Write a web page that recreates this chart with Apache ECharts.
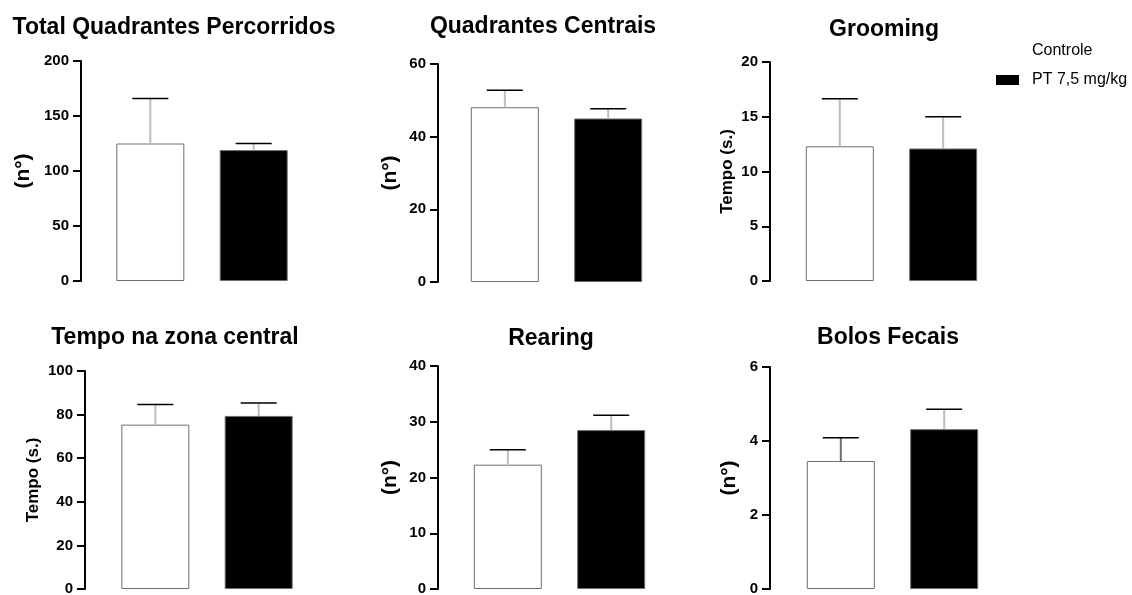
<!DOCTYPE html>
<html>
<head>
<meta charset="utf-8">
<style>
  html, body { margin: 0; padding: 0; background: #fff; }
  #chart { width: 1132px; height: 595px; }
</style>
<script src="https://cdn.jsdelivr.net/npm/echarts@6/dist/echarts.min.js"></script>
</head>
<body>
<div id="chart"></div>
<script>
  // dados
  const titles = ['Total Quadrantes Percorridos', 'Quadrantes Centrais', 'Grooming',
    'Tempo na zona central', 'Rearing', 'Bolos Fecais'];
  const yNames = ['(n°)', '(n°)', 'Tempo (s.)', 'Tempo (s.)', '(n°)', '(n°)'];
  const yMax = [200, 60, 20, 100, 40, 6];
  const yStep = [50, 20, 5, 20, 10, 2];
  const seriesNames = ['Controle', 'PT 7,5 mg/kg'];
  const controleMean = [125, 48.1, 12.3, 75.4, 22.3, 3.46];
  const controleSem = [41, 4.65, 4.35, 9.2, 2.7, 0.63];
  const ptMean = [119, 45.0, 12.1, 79.4, 28.5, 4.32];
  const ptSem = [6, 2.7, 2.9, 5.9, 2.65, 0.54];

  // layout de cada painel (px)
  const panels = [
    {left: 81, top: 61, width: 242, height: 220, nameGap: 47, nameSize: 21, tx: 174, ty: 16},
    {left: 438, top: 64, width: 237, height: 218, nameGap: 37, nameSize: 21, tx: 543, ty: 15},
    {left: 770, top: 62, width: 243, height: 219, nameGap: 34, nameSize: 17, tx: 884, ty: 18},
    {left: 85, top: 371, width: 244, height: 218, nameGap: 43, nameSize: 17, tx: 175, ty: 326},
    {left: 438, top: 366, width: 243, height: 223, nameGap: 37, nameSize: 21, tx: 551, ty: 327},
    {left: 770, top: 367, width: 245, height: 222, nameGap: 30, nameSize: 21, tx: 888, ty: 326}
  ];

  const FONT = "'Liberation Sans', Arial, sans-serif";
  const BAR_W = 68;
  const GAP = 0.52;
  const CAP = 18;

  const chart = echarts.init(document.getElementById('chart'), null, {renderer: 'canvas'});

  const grid = [], xAxis = [], yAxis = [], series = [], title = [];

  panels.forEach((p, i) => {
    grid.push({left: p.left, top: p.top, width: p.width, height: p.height, outerBoundsMode: 'none', containLabel: false});
    xAxis.push({type: 'category', gridIndex: i, data: [''], show: false});
    yAxis.push({
      type: 'value', gridIndex: i, min: 0, max: yMax[i], interval: yStep[i],
      name: yNames[i], nameLocation: 'middle', nameGap: p.nameGap,
      nameTextStyle: {fontFamily: FONT, fontWeight: 'bold', fontSize: p.nameSize, color: '#000'},
      axisLine: {show: true, lineStyle: {color: '#000', width: 2}},
      axisTick: {show: true, length: 8, lineStyle: {color: '#000', width: 2}},
      axisLabel: {fontFamily: FONT, fontWeight: 'bold', fontSize: 15, color: '#000', margin: 12},
      splitLine: {show: false}
    });
    title.push({
      text: titles[i], left: p.tx, top: p.ty, textAlign: 'center', padding: 0,
      textStyle: {fontFamily: FONT, fontWeight: 'bold', fontSize: 23, color: '#000'}
    });

    const groups = [
      {name: seriesNames[0], mean: controleMean[i], sem: controleSem[i], color: '#fff', stem: i === 5 ? '#707070' : '#bdbdbd', side: -1},
      {name: seriesNames[1], mean: ptMean[i], sem: ptSem[i], color: '#000', stem: '#bdbdbd', side: 1}
    ];
    groups.forEach(g => {
      series.push({
        name: g.name, type: 'bar', xAxisIndex: i, yAxisIndex: i,
        barWidth: BAR_W, barGap: (GAP * 100) + '%',
        data: [g.mean],
        itemStyle: {color: g.color, borderColor: '#6e6e6e', borderWidth: 1},
        silent: true, animation: false
      });
    });
    groups.forEach(g => {
      const offset = g.side * (BAR_W + BAR_W * GAP) / 2;
      series.push({
        type: 'custom', xAxisIndex: i, yAxisIndex: i, z: 3,
        encode: {x: 0, y: [1, 2]},
        data: [[0, g.mean, g.mean + g.sem]],
        renderItem(params, api) {
          const base = api.coord([api.value(0), api.value(1)]);
          const top = api.coord([api.value(0), api.value(2)]);
          const x = base[0] + offset;
          return {
            type: 'group',
            children: [
              {type: 'line', shape: {x1: x, y1: base[1], x2: x, y2: top[1]},
                style: {stroke: g.stem, lineWidth: 2}},
              {type: 'line', shape: {x1: x - CAP, y1: top[1], x2: x + CAP, y2: top[1]},
                style: {stroke: '#000', lineWidth: 1.5}}
            ]
          };
        },
        silent: true, animation: false
      });
    });
  });

  chart.setOption({
    backgroundColor: '#fff',
    animation: false,
    title: title,
    legend: {
      orient: 'vertical', left: 996, top: 43, padding: 0,
      itemWidth: 23, itemHeight: 10, itemGap: 13,
      icon: 'rect',
      data: [
        {name: seriesNames[0], itemStyle: {borderWidth: 0}},
        {name: seriesNames[1], itemStyle: {borderWidth: 0}}
      ],
      textStyle: {fontFamily: FONT, fontSize: 16, color: '#000', padding: [0, 0, 0, 8]}
    },
    grid: grid,
    xAxis: xAxis,
    yAxis: yAxis,
    series: series
  });
</script>
</body>
</html>
